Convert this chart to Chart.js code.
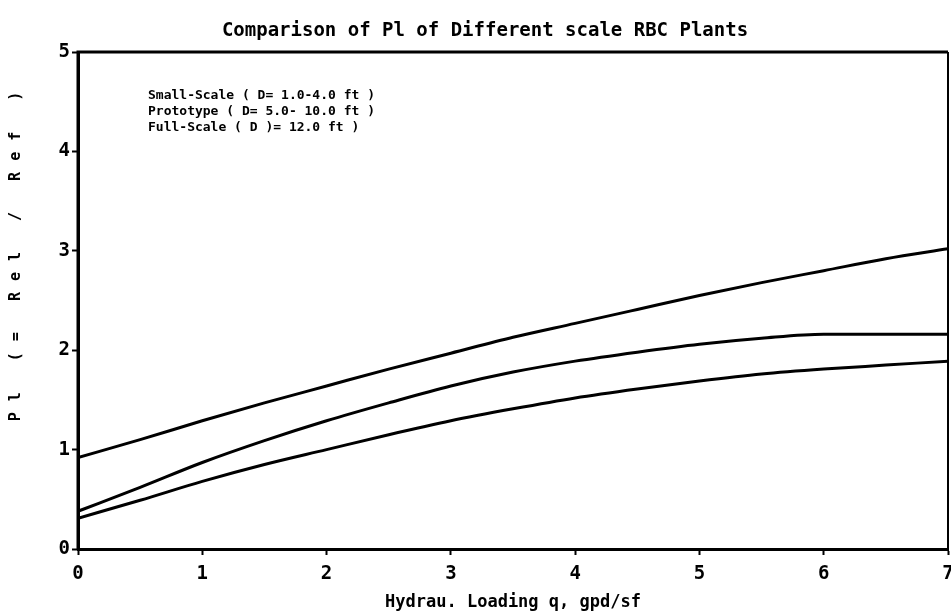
<!DOCTYPE html>
<html>
<head>
<meta charset="utf-8">
<script src="https://cdn.jsdelivr.net/npm/chart.js@4.4.1/dist/chart.umd.min.js"></script>
<style>
    html, body { margin: 0; padding: 0; background: #ffffff; }
</style>
</head>
<body>
<canvas id="myChart" width="951" height="613"></canvas>
<script>
// values
var loading = [0, 0.5, 1, 1.5, 2, 2.5, 3, 3.5, 4, 4.5, 5, 5.5, 6, 6.5, 7];
var smallScale = [0.92, 1.10, 1.29, 1.47, 1.64, 1.81, 1.97, 2.13, 2.27, 2.41, 2.55, 2.68, 2.80, 2.92, 3.02];
var prototype  = [0.38, 0.62, 0.87, 1.09, 1.29, 1.47, 1.64, 1.78, 1.89, 1.98, 2.06, 2.12, 2.16, 2.16, 2.16];
var fullScale  = [0.31, 0.49, 0.68, 0.85, 1.00, 1.15, 1.29, 1.41, 1.52, 1.61, 1.69, 1.76, 1.81, 1.85, 1.89];

var seriesLabels = [
    'Small-Scale ( D= 1.0-4.0 ft )',
    'Prototype ( D= 5.0- 10.0 ft )',
    'Full-Scale ( D )= 12.0 ft )'
];
var chartTitle = 'Comparison of Pl of Different scale RBC Plants';
var xTitle = 'Hydrau. Loading q, gpd/sf';
var yTitle = 'Pl (= Rel / Ref )';

var FONT = "'DejaVu Sans Mono', 'Liberation Mono', monospace";

function points(values) {
    return values.map(function (v, i) { return { x: loading[i], y: v }; });
}

// title, frame, inside legend and spaced y title
var extras = {
    id: 'extras',
    afterDraw: function (chart) {
        var ctx = chart.ctx;
        var a = chart.chartArea;
        ctx.save();

        // box around the plot
        ctx.strokeStyle = '#000';
        ctx.lineWidth = 3;
        ctx.beginPath();
        ctx.moveTo(a.left, a.bottom);
        ctx.lineTo(a.left, a.top);
        ctx.lineTo(a.right, a.top);
        ctx.stroke();
        ctx.lineWidth = 2;
        ctx.beginPath();
        ctx.moveTo(a.right, a.top);
        ctx.lineTo(a.right, a.bottom);
        ctx.stroke();

        ctx.fillStyle = '#000';
        ctx.textBaseline = 'middle';

        // chart title
        ctx.font = 'bold 19px ' + FONT;
        ctx.textAlign = 'center';
        ctx.fillText(chartTitle, 485, 31);

        // legend text, no samples
        ctx.font = 'bold 13px ' + FONT;
        ctx.textAlign = 'left';
        chart.data.datasets.forEach(function (ds, i) {
            ctx.fillText(ds.label, 148, 96 + i * 16);
        });

        // y axis title, spread out
        ctx.translate(16, 256);
        ctx.rotate(-Math.PI / 2);
        ctx.font = 'bold 15px ' + FONT;
        ctx.letterSpacing = '11px';
        ctx.textAlign = 'center';
        ctx.fillText(yTitle, 5, 0);
        ctx.restore();
    }
};

var ctx = document.getElementById('myChart').getContext('2d');
var myChart = new Chart(ctx, {
    type: 'line',
    data: {
        datasets: [{
            label: seriesLabels[0],
            data: points(smallScale)
        }, {
            label: seriesLabels[1],
            data: points(prototype)
        }, {
            label: seriesLabels[2],
            data: points(fullScale)
        }]
    },
    options: {
        responsive: false,
        animation: false,
        devicePixelRatio: 1,
        layout: {
            autoPadding: false,
            padding: { top: 52, right: 3, left: 0, bottom: 0 }
        },
        elements: {
            line: {
                borderColor: '#000000',
                borderWidth: 3,
                cubicInterpolationMode: 'monotone',
                fill: false
            },
            point: { radius: 0, hoverRadius: 0 }
        },
        plugins: {
            legend: { display: false },
            title: { display: false },
            tooltip: { enabled: false }
        },
        scales: {
            x: {
                type: 'linear',
                min: 0,
                max: 7,
                afterFit: function (s) {
                    s.height = 64;
                    s.paddingLeft = 0;
                    s.paddingRight = 0;
                },
                ticks: {
                    stepSize: 1,
                    color: '#000000',
                    padding: 8,
                    maxRotation: 0,
                    font: { family: FONT, size: 19, weight: 'bold' }
                },
                grid: {
                    drawOnChartArea: false,
                    drawTicks: true,
                    tickLength: 6,
                    tickWidth: 2,
                    tickColor: '#000000'
                },
                border: { display: true, color: '#000000', width: 3 },
                title: {
                    display: true,
                    text: xTitle,
                    color: '#000000',
                    padding: { top: 1, bottom: 0 },
                    font: { family: FONT, size: 17, weight: 'bold' }
                }
            },
            y: {
                min: 0,
                max: 5,
                afterFit: function (s) {
                    s.width = 78;
                    s.paddingTop = 0;
                    s.paddingBottom = 0;
                },
                ticks: {
                    stepSize: 1,
                    color: '#000000',
                    padding: 2,
                    font: { family: FONT, size: 19, weight: 'bold' }
                },
                grid: {
                    drawOnChartArea: false,
                    drawTicks: true,
                    tickLength: 6,
                    tickWidth: 2,
                    tickColor: '#000000'
                },
                border: { display: true, color: '#000000', width: 3 }
            }
        }
    },
    plugins: [extras]
});
</script>
</body>
</html>
